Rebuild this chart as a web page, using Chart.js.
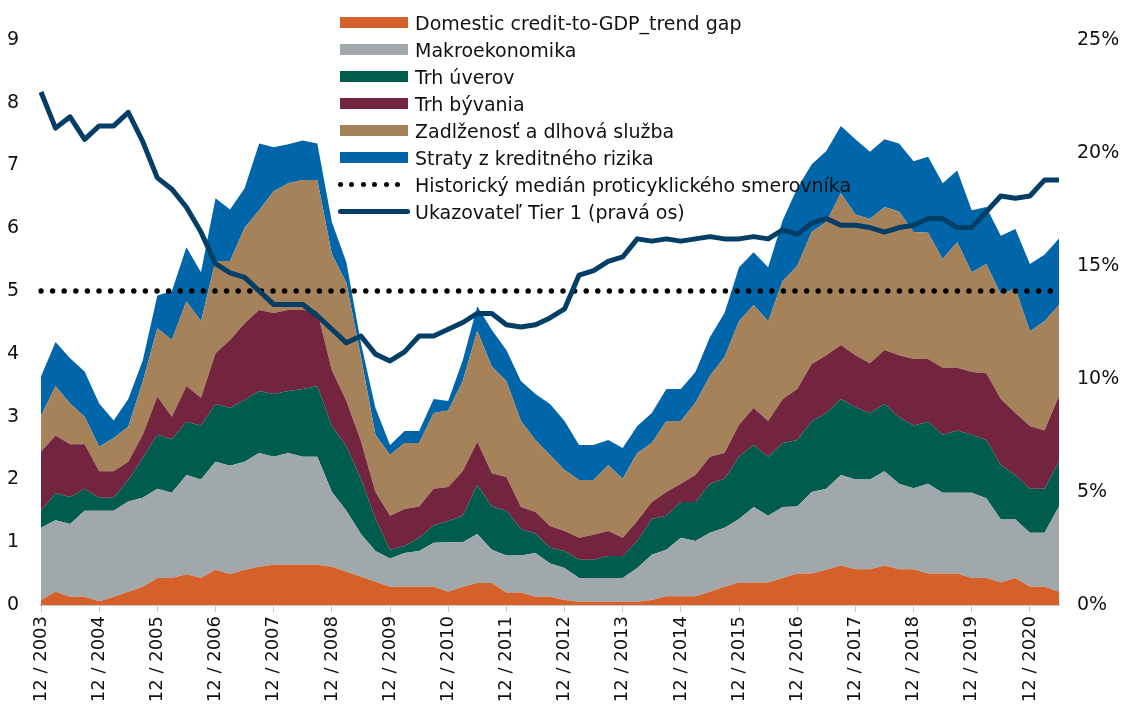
<!DOCTYPE html>
<html>
<head>
<meta charset="utf-8">
<script src="https://cdn.jsdelivr.net/npm/chart.js"></script>
<style>
  body { margin: 0; background: #fff; }
  #wrap { position: relative; width: 1127px; height: 711px; }
  #legend { position: absolute; left: 338px; top: 9px; font: 19px 'DejaVu Sans', Verdana, sans-serif; color: #111; }
  .row { display: flex; align-items: center; height: 27px; white-space: nowrap; }
  .key { width: 77px; display: flex; align-items: center; }
  .swatch { width: 68px; height: 11px; margin-left: 2px; }
  .dot { width: 5px; height: 5px; border-radius: 50%; background: #000; margin-right: 6.4px; }
  .bar { width: 72px; height: 5px; border-radius: 3px; }
</style>
</head>
<body>
<div id="wrap">
  <canvas id="chart" width="1127" height="711"></canvas>
  <div id="legend"></div>
</div>
<script>
// quarters 12/2003 .. 6/2021
const categories = [];
for (let y = 2003; y <= 2021; y++) {
  for (const m of [3, 6, 9, 12]) {
    if ((y === 2003 && m < 12) || (y === 2021 && m > 6)) continue;
    categories.push(m + ' / ' + y);
  }
}

const creditGap = [0.08,0.21,0.13,0.13,0.06,0.13,0.21,0.29,0.43,0.43, 0.49,0.43,0.56,0.49,0.56,0.61,0.64,0.64,0.64,0.64,
  0.61,0.53,0.45,0.37,0.29,0.29,0.29,0.29,0.21,0.29, 0.35,0.35,0.20,0.20,0.13,0.13,0.08,0.05,0.05,0.05,
  0.05,0.05,0.08,0.14,0.14,0.14,0.21,0.29,0.36,0.36, 0.36,0.43,0.50,0.50,0.56,0.63,0.57,0.57,0.63,0.57,
  0.57,0.50,0.50,0.50,0.43,0.43,0.36,0.43,0.29,0.29, 0.21];
const macro = [1.15,1.14,1.16,1.37,1.44,1.37,1.44,1.42,1.42,1.36, 1.58,1.57,1.72,1.73,1.72,1.81,1.72,1.78,1.72,1.72,
  1.19,0.97,0.68,0.49,0.45,0.54,0.57,0.70,0.79,0.71, 0.78,0.53,0.59,0.59,0.70,0.53,0.51,0.38,0.38,0.38,
  0.38,0.54,0.72,0.74,0.93,0.88,0.94,0.94,1.01,1.20, 1.06,1.13,1.07,1.30,1.29,1.44,1.43,1.43,1.50,1.36,
  1.29,1.43,1.29,1.29,1.36,1.27,1.00,0.93,0.86,0.86, 1.36];
const creditMarket = [0.27,0.43,0.43,0.35,0.21,0.21,0.34,0.63,0.86,0.85, 0.85,0.86,0.92,0.92,0.99,0.99,1.00,0.99,1.08,1.13,
  1.05,1.02,0.88,0.51,0.14,0.11,0.21,0.28,0.34,0.42, 0.78,0.69,0.71,0.42,0.31,0.25,0.27,0.29,0.29,0.35,
  0.35,0.43,0.57,0.54,0.57,0.62,0.78,0.78,0.99,0.99, 0.94,1.02,1.06,1.13,1.21,1.21,1.15,1.06,1.07,1.06,
  1.00,0.99,0.92,0.99,0.92,0.93,0.87,0.71,0.70,0.70, 0.71];
const housing = [0.94,0.92,0.84,0.71,0.42,0.42,0.29,0.37,0.61,0.36, 0.57,0.44,0.81,1.08,1.22,1.29,1.29,1.29,1.26,1.19,
  0.89,0.73,0.60,0.43,0.54,0.59,0.50,0.58,0.54,0.71, 0.69,0.53,0.54,0.35,0.34,0.35,0.32,0.35,0.40,0.40,
  0.29,0.32,0.27,0.38,0.29,0.43,0.43,0.41,0.51,0.59, 0.57,0.70,0.81,0.91,0.92,0.86,0.83,0.79,0.86,0.99,
  1.06,1.00,1.07,1.00,1.00,1.06,1.05,0.99,1.00,0.93, 1.05];
const debt = [0.57,0.79,0.65,0.44,0.39,0.53,0.56,0.85,1.09,1.22, 1.35,1.22,1.47,1.26,1.52,1.59,1.94,2.02,2.07,2.09,
  1.85,1.88,1.34,0.91,0.97,1.05,1.01,1.21,1.22,1.44, 1.77,1.70,1.53,1.37,1.15,1.13,0.97,0.92,0.87,1.05,
  0.94,1.08,0.94,1.13,1.00,1.15,1.29,1.53,1.65,1.64, 1.59,1.88,1.96,2.10,2.12,2.42,2.24,2.30,2.28,2.29,
  2.02,2.01,1.73,2.00,1.59,1.74,1.67,1.98,1.51,1.74, 1.45];
const creditLosses = [0.63,0.70,0.72,0.72,0.69,0.28,0.44,0.34,0.52,0.78, 0.86,0.78,1.00,0.82,0.63,1.06,0.70,0.62,0.63,0.58,
  0.51,0.33,0.22,0.43,0.16,0.19,0.19,0.22,0.15,0.33, 0.39,0.58,0.49,0.64,0.73,0.81,0.78,0.56,0.56,0.40,
  0.49,0.43,0.48,0.51,0.51,0.49,0.62,0.70,0.86,0.84, 0.86,0.97,1.24,1.08,1.13,1.07,1.20,1.07,1.08,1.08,
  1.13,1.21,1.21,1.14,0.99,0.91,0.93,0.95,1.07,1.06, 1.06];
const historicalMedian = 5;
// Tier 1 ratio, % (right axis)
const tier1 = [22.7,21.1,21.6,20.6,21.2,21.2,21.8,20.5,18.9,18.4, 17.6,16.5,15.1,14.7,14.5,13.9,13.3,13.3,13.3,12.8,
  12.2,11.6,11.9,11.1,10.8,11.2,11.9,11.9,12.2,12.5, 12.9,12.9,12.4,12.3,12.4,12.7,13.1,14.6,14.8,15.2,
  15.4,16.2,16.1,16.2,16.1,16.2,16.3,16.2,16.2,16.3, 16.2,16.6,16.4,16.9,17.1,16.8,16.8,16.7,16.5,16.7,
  16.8,17.1,17.1,16.7,16.7,17.4,18.1,18.0,18.1,18.8, 18.8];

const areaNames = ['Domestic credit-to-GDP_trend gap', 'Makroekonomika', 'Trh úverov', 'Trh bývania',
  'Zadlženosť a dlhová služba', 'Straty z kreditného rizika'];
const areaColors = ['#D4602A', '#A1A8AB', '#005C4D', '#73243E', '#A6825A', '#0066A9'];
const areaData = [creditGap, macro, creditMarket, housing, debt, creditLosses];
const medianName = 'Historický medián proticyklického smerovníka';
const tier1Name = 'Ukazovateľ Tier 1 (pravá os)';
const lineColor = '#023E66';

const font = { family: "'DejaVu Sans', Verdana, sans-serif", size: 19 };

let datasets = areaData.map((d, i) => ({
  label: areaNames[i],
  data: d,
  backgroundColor: areaColors[i],
  borderWidth: 0,
  fill: i === 0 ? 'origin' : '-1',
  pointRadius: 0,
  yAxisID: 'y',
  stack: 'areas',
  order: 10
}));
datasets.push({
  label: medianName,
  data: categories.map(() => historicalMedian),
  borderColor: '#000',
  borderWidth: 5.5,
  borderDash: [0, 11.6],
  borderCapStyle: 'round',
  fill: false,
  pointRadius: 0,
  yAxisID: 'y',
  stack: 'median',
  order: 1
});
datasets.push({
  label: tier1Name,
  data: tier1,
  borderColor: lineColor,
  borderWidth: 5,
  borderJoinStyle: 'round',
  fill: false,
  pointRadius: 0,
  yAxisID: 'y1',
  order: 0
});

new Chart(document.getElementById('chart'), {
  type: 'line',
  data: { labels: categories, datasets: datasets },
  options: {
    responsive: false,
    animation: false,
    layout: { padding: { top: 40, left: 0, right: 0, bottom: 0 } },
    plugins: { legend: { display: false }, tooltip: { enabled: false } },
    elements: { line: { tension: 0 } },
    scales: {
      x: {
        offset: false,
        grid: {
          drawOnChartArea: false,
          tickLength: 7,
          tickColor: ctx => ctx.index % 4 === 0 ? '#c8c8c8' : 'rgba(0,0,0,0)'
        },
        border: { color: '#c8c8c8', width: 2 },
        ticks: {
          autoSkip: false, maxRotation: 90, minRotation: 90, padding: 4,
          font: { family: font.family, size: 18 }, color: '#111',
          callback: function (v, i) { return i % 4 === 0 ? this.getLabelForValue(v) : ''; }
        },
        afterFit: s => { s.height = 106; }
      },
      y: {
        position: 'left', stacked: true, min: 0, max: 9,
        grid: { display: false }, border: { display: false },
        ticks: { stepSize: 1, padding: 14, font: font, color: '#111' },
        afterFit: s => { s.width = 41; }
      },
      y1: {
        position: 'right', min: 0, max: 25,
        grid: { display: false }, border: { display: false },
        ticks: { stepSize: 5, padding: 10, font: font, color: '#111', callback: v => v + '%' },
        afterFit: s => { s.width = 68; }
      }
    }
  }
});

// legend
const legend = document.getElementById('legend');
areaNames.forEach((name, i) => {
  legend.insertAdjacentHTML('beforeend',
    '<div class="row"><div class="key"><div class="swatch" style="background:' + areaColors[i] + '"></div></div>' + name + '</div>');
});
legend.insertAdjacentHTML('beforeend',
  '<div class="row"><div class="key">' + '<div class="dot"></div>'.repeat(6) + '</div>' + medianName + '</div>');
legend.insertAdjacentHTML('beforeend',
  '<div class="row"><div class="key"><div class="bar" style="background:' + lineColor + '"></div></div>' + tier1Name + '</div>');
</script>
</body>
</html>
